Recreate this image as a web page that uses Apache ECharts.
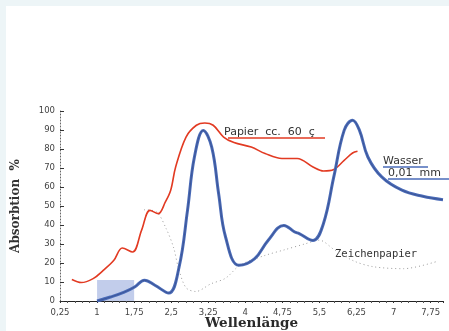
<!DOCTYPE html>
<html>
<head>
<meta charset="utf-8">
<script src="https://cdn.jsdelivr.net/npm/echarts@6/dist/echarts.min.js"></script>
<style>
  html, body { margin: 0; padding: 0; background: #edf5f7; }
  #chart { position: absolute; left: 6px; top: 6px; width: 443px; height: 325px; background: #fff; }
</style>
</head>
<body>
<div id="chart"></div>
<script>
// wavelength ticks
const xTicks = [0.25, 1, 1.75, 2.5, 3.25, 4, 4.75, 5.5, 6.25, 7, 7.75];

// Papier cc. 60 µ (red)
const papierX = [0.49, 0.68, 0.92, 1.13, 1.34, 1.51, 1.72, 1.90, 2.07, 2.24, 2.38, 2.49, 2.59, 2.80, 3.01, 3.18, 3.35, 3.56, 3.77, 4.12, 4.40, 4.74, 5.05, 5.37, 5.58, 5.79, 6.00, 6.17, 6.27];
const papierY = [11.3, 9.7, 11.8, 16.2, 21.4, 27.9, 25.8, 37.2, 47.7, 46, 52, 58.3, 70.5, 86.3, 92.5, 93.7, 92.5, 86.3, 83.4, 81, 77.6, 75, 75, 70.5, 68.4, 69.2, 74, 77.9, 78.8];

// Wasser 0,01 mm (blue)
const wasserX = [1.0, 1.27, 1.55, 1.76, 1.96, 2.17, 2.45, 2.66, 2.83, 2.97, 3.15, 3.32, 3.46, 3.60, 3.87, 4.19, 4.46, 4.78, 5.0, 5.09, 5.37, 5.58, 5.79, 6.0, 6.17, 6.31, 6.48, 6.76, 7.17, 7.59, 8.0];
const wasserY = [0, 2.1, 4.7, 7.4, 10.9, 8.3, 4.2, 17.9, 47.7, 75.8, 89.8, 81, 56.5, 33.7, 18.8, 22.3, 31.9, 39.8, 36.3, 35.5, 31.9, 40.7, 65.3, 89.8, 95.1, 89.8, 75.8, 65.3, 58.3, 55.1, 53.3];

// Zeichenpapier (dotted)
const zeichenX = [1.95, 2.2, 2.4, 2.55, 2.65, 2.8, 3.0, 3.3, 3.6, 3.9, 4.4, 4.8, 5.2, 5.5, 5.8, 6.2, 6.6, 7.2, 7.9];
const zeichenY = [48, 47, 38, 28, 17, 7, 5, 9, 12, 19, 24, 27, 30, 32, 27, 21, 18, 17, 21];

const zip = (xs, ys) => xs.map((x, i) => [x, ys[i]]);

const chart = echarts.init(document.getElementById('chart'));

const tickFont = { fontSize: 8.5, color: '#444', fontFamily: 'DejaVu Sans' };

chart.setOption({
  animation: false,
  grid: { left: 54, right: 6, top: 105, bottom: 30, outerBoundsMode: 'none', containLabel: false },
  xAxis: {
    type: 'value',
    min: 0.25,
    max: 8,
    interval: 0.75,
    name: 'Wellenlänge',
    nameLocation: 'middle',
    nameGap: 15,
    nameMoveOverlap: false,
    nameTextStyle: { fontFamily: 'DejaVu Serif', fontSize: 13.5, fontWeight: 'bold', color: '#2a2a2a' },
    axisLine: { lineStyle: { color: '#222', width: 1 } },
    axisTick: { show: true, length: 2, lineStyle: { color: '#333' } },
    minorTick: { show: true, splitNumber: 5, length: 2, lineStyle: { color: '#555' } },
    splitLine: { show: false },
    axisLabel: Object.assign({
      margin: 7,
      showMaxLabel: false,
      formatter: v => xTicks.includes(Math.round(v * 100) / 100) ? String(Math.round(v * 100) / 100).replace('.', ',') : ''
    }, tickFont)
  },
  yAxis: {
    type: 'value',
    min: 0,
    max: 100,
    interval: 10,
    name: 'Absorbtion  %',
    nameLocation: 'middle',
    nameGap: 38,
    nameTextStyle: { fontFamily: 'DejaVu Serif', fontSize: 12, fontWeight: 'bold', color: '#333' },
    axisLine: { show: true, lineStyle: { color: '#666', type: [1, 2], width: 1 } },
    axisTick: { show: true, inside: true, length: 4, lineStyle: { color: '#333' } },
    splitLine: { show: false },
    axisLabel: Object.assign({ margin: 5 }, tickFont)
  },
  series: [
    {
      name: 'Zeichenpapier',
      type: 'line',
      data: zip(zeichenX, zeichenY),
      smooth: 0.3,
      symbol: 'none',
      lineStyle: { color: '#9a9a9a', width: 1, type: [1, 3] }
    },
    {
      name: 'Papier',
      type: 'line',
      data: zip(papierX, papierY),
      smooth: 0.35,
      symbol: 'none',
      lineStyle: { color: '#e23a22', width: 1.6 }
    },
    {
      name: 'Wasser',
      type: 'line',
      data: zip(wasserX, wasserY),
      smooth: 0.4,
      symbol: 'none',
      lineStyle: { color: '#4a6bb8', width: 3 },
      markArea: {
        silent: true,
        itemStyle: { color: 'rgba(120,145,210,0.45)' },
        data: [[{ coord: [1, 0] }, { coord: [1.75, 11] }]]
      }
    },
    {
      name: 'Wasser-core',
      type: 'line',
      data: zip(wasserX, wasserY),
      smooth: 0.4,
      symbol: 'none',
      lineStyle: { color: '#1c2240', width: 0.8, opacity: 0.35 }
    }
  ],
  graphic: [
    { type: 'text', left: 218, top: 121, style: { text: 'Papier  cc.  60  ç', fontSize: 11, fontFamily: 'DejaVu Sans', fill: '#333' } },
    { type: 'line', shape: { x1: 222, y1: 132, x2: 319, y2: 132 }, style: { stroke: '#e23a22', lineWidth: 1.5 } },
    { type: 'text', left: 377, top: 150, style: { text: 'Wasser', fontSize: 11, fontFamily: 'DejaVu Sans', fill: '#333' } },
    { type: 'line', shape: { x1: 377, y1: 161, x2: 422, y2: 161 }, style: { stroke: '#4a6bb8', lineWidth: 1.5 } },
    { type: 'text', left: 382, top: 162, style: { text: '0,01  mm', fontSize: 11, fontFamily: 'DejaVu Sans', fill: '#333' } },
    { type: 'line', shape: { x1: 382, y1: 173, x2: 443, y2: 173 }, style: { stroke: '#4a6bb8', lineWidth: 1.5 } },
    { type: 'text', left: 329, top: 243, style: { text: 'Zeichenpapier', fontSize: 10.5, fontFamily: 'DejaVu Sans Mono', fill: '#333' } }
  ]
});
</script>
</body>
</html>
